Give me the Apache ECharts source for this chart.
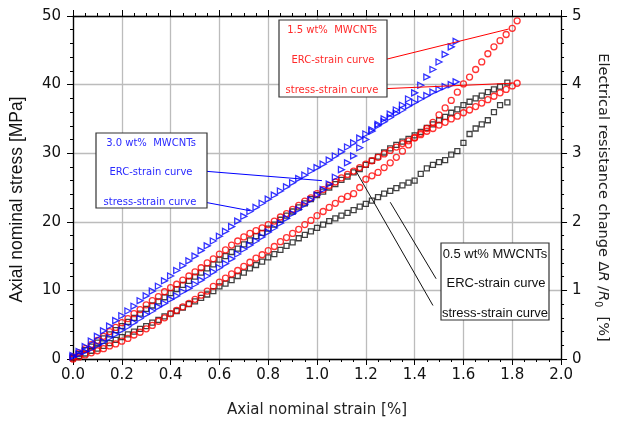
<!DOCTYPE html>
<html>
<head>
<meta charset="utf-8">
<script src="https://cdn.jsdelivr.net/npm/echarts@6/dist/echarts.min.js"></script>
<style>
  html, body { margin: 0; padding: 0; background: #fff; }
  #chart { width: 618px; height: 424px; }
</style>
</head>
<body>
<div id="chart"></div>
<script>
// strain values [%] for each specimen
const strain3 = [0, 0.025, 0.05, 0.075, 0.1, 0.125, 0.15, 0.175, 0.2, 0.225, 0.25, 0.275, 0.3, 0.325, 0.35, 0.375, 0.4, 0.425, 0.45, 0.475, 0.5, 0.525, 0.55, 0.575, 0.6, 0.625, 0.65, 0.675, 0.7, 0.725, 0.75, 0.775, 0.8, 0.825, 0.85, 0.875, 0.9, 0.925, 0.95, 0.975, 1.0, 1.025, 1.05, 1.075, 1.1, 1.125, 1.15, 1.175, 1.2, 1.225, 1.25, 1.275, 1.3, 1.325, 1.35, 1.375, 1.4, 1.425, 1.45, 1.475, 1.5, 1.525, 1.55, 1.57]
const strain05 = [0, 0.025, 0.05, 0.075, 0.1, 0.125, 0.15, 0.175, 0.2, 0.225, 0.25, 0.275, 0.3, 0.325, 0.35, 0.375, 0.4, 0.425, 0.45, 0.475, 0.5, 0.525, 0.55, 0.575, 0.6, 0.625, 0.65, 0.675, 0.7, 0.725, 0.75, 0.775, 0.8, 0.825, 0.85, 0.875, 0.9, 0.925, 0.95, 0.975, 1.0, 1.025, 1.05, 1.075, 1.1, 1.125, 1.15, 1.175, 1.2, 1.225, 1.25, 1.275, 1.3, 1.325, 1.35, 1.375, 1.4, 1.425, 1.45, 1.475, 1.5, 1.525, 1.55, 1.575, 1.6, 1.625, 1.65, 1.675, 1.7, 1.725, 1.75, 1.78]
const strain15 = [0, 0.025, 0.05, 0.075, 0.1, 0.125, 0.15, 0.175, 0.2, 0.225, 0.25, 0.275, 0.3, 0.325, 0.35, 0.375, 0.4, 0.425, 0.45, 0.475, 0.5, 0.525, 0.55, 0.575, 0.6, 0.625, 0.65, 0.675, 0.7, 0.725, 0.75, 0.775, 0.8, 0.825, 0.85, 0.875, 0.9, 0.925, 0.95, 0.975, 1.0, 1.025, 1.05, 1.075, 1.1, 1.125, 1.15, 1.175, 1.2, 1.225, 1.25, 1.275, 1.3, 1.325, 1.35, 1.375, 1.4, 1.425, 1.45, 1.475, 1.5, 1.525, 1.55, 1.575, 1.6, 1.625, 1.65, 1.675, 1.7, 1.725, 1.75, 1.775, 1.8, 1.82]

// axial nominal stress [MPa]
const stress3 = [0.5, 1.1, 1.8, 2.6, 3.3, 4.1, 4.8, 5.6, 6.3, 7.0, 7.7, 8.5, 9.2, 9.9, 10.6, 11.4, 12.1, 12.9, 13.6, 14.3, 15.0, 15.8, 16.5, 17.2, 17.9, 18.6, 19.3, 20.1, 20.8, 21.5, 22.1, 22.7, 23.3, 23.9, 24.5, 25.1, 25.7, 26.3, 26.8, 27.4, 27.9, 28.4, 29.0, 29.6, 30.2, 30.9, 31.5, 32.2, 32.8, 33.4, 34.0, 34.6, 35.2, 35.8, 36.3, 36.9, 37.4, 37.9, 38.4, 38.9, 39.3, 39.7, 40.0, 40.4]
const stress05 = [0.2, 0.7, 1.3, 1.8, 2.4, 3.0, 3.6, 4.2, 4.8, 5.4, 6.0, 6.6, 7.3, 7.8, 8.4, 9.0, 9.6, 10.2, 10.8, 11.4, 12.0, 12.6, 13.2, 13.8, 14.5, 15.0, 15.6, 16.1, 16.7, 17.3, 17.9, 18.4, 19.0, 19.6, 20.3, 20.9, 21.5, 22.1, 22.7, 23.3, 23.9, 24.4, 25.0, 25.5, 26.1, 26.6, 27.2, 27.7, 28.3, 28.9, 29.5, 30.1, 30.7, 31.2, 31.7, 32.1, 32.6, 33.1, 33.7, 34.2, 34.8, 35.3, 35.9, 36.4, 37.0, 37.5, 38.0, 38.4, 38.9, 39.3, 39.7, 40.3]
const stress15 = [0.3, 0.9, 1.5, 2.1, 2.7, 3.3, 4.0, 4.6, 5.3, 5.9, 6.6, 7.2, 7.9, 8.5, 9.1, 9.8, 10.4, 10.9, 11.5, 12.1, 12.7, 13.3, 14.0, 14.6, 15.3, 15.9, 16.6, 17.2, 17.8, 18.3, 18.7, 19.1, 19.6, 20.1, 20.7, 21.2, 21.8, 22.4, 23.0, 23.5, 24.1, 24.7, 25.3, 25.8, 26.4, 26.9, 27.4, 27.9, 28.4, 28.9, 29.4, 29.9, 30.4, 30.9, 31.4, 31.8, 32.3, 32.7, 33.2, 33.6, 34.1, 34.5, 35.0, 35.4, 35.9, 36.3, 36.8, 37.3, 37.8, 38.3, 38.8, 39.3, 39.8, 40.2]

// electrical resistance change dR/R0 [%]
const erc3 = [0.03, 0.07, 0.11, 0.15, 0.20, 0.25, 0.31, 0.36, 0.42, 0.47, 0.53, 0.59, 0.65, 0.70, 0.76, 0.81, 0.87, 0.92, 0.98, 1.03, 1.09, 1.15, 1.21, 1.27, 1.33, 1.39, 1.46, 1.53, 1.60, 1.66, 1.72, 1.78, 1.85, 1.91, 1.98, 2.05, 2.12, 2.18, 2.25, 2.32, 2.39, 2.47, 2.55, 2.65, 2.76, 2.86, 2.96, 3.08, 3.20, 3.32, 3.42, 3.50, 3.57, 3.63, 3.70, 3.79, 3.88, 3.99, 4.11, 4.22, 4.33, 4.44, 4.55, 4.63]
const erc05 = [0.01, 0.04, 0.08, 0.12, 0.15, 0.19, 0.23, 0.28, 0.32, 0.36, 0.40, 0.44, 0.48, 0.53, 0.57, 0.62, 0.66, 0.70, 0.75, 0.80, 0.84, 0.89, 0.94, 0.99, 1.06, 1.10, 1.15, 1.21, 1.26, 1.32, 1.37, 1.42, 1.48, 1.53, 1.59, 1.65, 1.70, 1.76, 1.81, 1.86, 1.91, 1.96, 2.01, 2.05, 2.09, 2.13, 2.17, 2.22, 2.26, 2.31, 2.36, 2.41, 2.45, 2.49, 2.53, 2.57, 2.60, 2.70, 2.78, 2.83, 2.87, 2.90, 2.98, 3.03, 3.15, 3.28, 3.36, 3.42, 3.48, 3.60, 3.70, 3.74]
const erc15 = [0.00, 0.03, 0.06, 0.09, 0.12, 0.15, 0.19, 0.22, 0.26, 0.30, 0.35, 0.39, 0.44, 0.49, 0.55, 0.60, 0.66, 0.71, 0.76, 0.81, 0.87, 0.93, 0.99, 1.06, 1.12, 1.18, 1.24, 1.29, 1.35, 1.41, 1.47, 1.52, 1.58, 1.64, 1.71, 1.77, 1.83, 1.89, 1.96, 2.02, 2.09, 2.15, 2.21, 2.27, 2.33, 2.37, 2.41, 2.50, 2.62, 2.67, 2.72, 2.79, 2.86, 2.94, 3.03, 3.12, 3.22, 3.29, 3.36, 3.45, 3.56, 3.66, 3.77, 3.89, 4.01, 4.11, 4.22, 4.33, 4.45, 4.55, 4.64, 4.73, 4.82, 4.93]

// annotation arrows, [from, to] in strain / stress units
const arrows3 = [[[0.532, 27.4], [1.02, 26.0]], [[0.541, 22.85], [0.727, 21.6]]]
const arrows15 = [[[1.273, 43.6], [1.785, 48.1]], [[1.273, 39.4], [1.80, 40.2]]]
const arrows05 = [[[1.488, 11.7], [1.30, 22.85]], [[1.475, 7.8], [1.158, 27.5]]]

const BLUE = '#0000ff'
const RED = '#ff0000'
const BLACK = '#111111'
const AXIS_FONT = 'DejaVu Sans'

const pairs = (xs, ys) => xs.map((x, i) => [x, ys[i]])

const arrowLine = (list, color) => ({
  silent: true,
  symbol: ['none', 'arrow'],
  symbolSize: [0, 8],
  lineStyle: { color: color, width: 1, type: 'solid' },
  label: { show: false },
  emphasis: { disabled: true },
  data: list.map(a => [{ coord: a[0] }, { coord: a[1] }])
})

const markerSeries = (name, data, yIdx, symbol, color, size, rotate, arrows) => {
  const s = {
    name: name,
    type: 'scatter',
    yAxisIndex: yIdx,
    symbol: symbol,
    symbolSize: size,
    symbolRotate: rotate,
    data: data,
    itemStyle: { color: 'transparent', borderColor: color, borderWidth: 1.3 },
    z: 3
  }
  if (arrows) s.markLine = arrowLine(arrows, color)
  return s
}

const chart = echarts.init(document.getElementById('chart'))

const tickStyle = { color: '#000', width: 1 }

const option = {
  animation: false,
  backgroundColor: '#fff',
  grid: { left: 73, right: 50, top: 16, bottom: 65 },
  xAxis: [
    {
      type: 'value', min: 0, max: 2, interval: 0.2, position: 'bottom',
      name: 'Axial nominal strain [%]', nameLocation: 'middle', nameGap: 44,
      nameTextStyle: { fontFamily: AXIS_FONT, fontSize: 15, color: '#222' },
      axisLine: { show: true, onZero: false, lineStyle: { color: '#000', width: 1.3 } },
      axisTick: { show: true, length: 6, lineStyle: tickStyle },
      minorTick: { show: true, splitNumber: 4, length: 3, lineStyle: tickStyle },
      splitLine: { show: true, lineStyle: { color: '#bcbcbc', width: 1.3 } },
      axisLabel: { formatter: v => v.toFixed(1), fontFamily: AXIS_FONT, fontSize: 15, color: '#111', margin: 9 }
    },
    {
      type: 'value', min: 0, max: 2, interval: 0.2, position: 'top',
      axisLine: { show: true, onZero: false, lineStyle: { color: '#000', width: 1.3 } },
      axisTick: { show: true, length: 6, lineStyle: tickStyle },
      minorTick: { show: true, splitNumber: 4, length: 3, lineStyle: tickStyle },
      splitLine: { show: false },
      axisLabel: { show: false }
    }
  ],
  yAxis: [
    {
      type: 'value', min: 0, max: 50, interval: 10, position: 'left',
      name: 'Axial nominal stress [MPa]', nameLocation: 'middle', nameGap: 47,
      nameTextStyle: { fontFamily: 'Liberation Sans', fontSize: 17.5, color: '#111', padding: [0, 24, 0, 0] },
      axisLine: { show: true, onZero: false, lineStyle: { color: '#000', width: 1.3 } },
      axisTick: { show: true, length: 6, lineStyle: tickStyle },
      minorTick: { show: true, splitNumber: 5, length: 3, lineStyle: tickStyle },
      splitLine: { show: true, lineStyle: { color: '#bcbcbc', width: 1.3 } },
      axisLabel: { fontFamily: AXIS_FONT, fontSize: 15, color: '#111', margin: 12 }
    },
    {
      type: 'value', min: 0, max: 5, interval: 1, position: 'right',
      name: 'Electrical resistance change Δ{i|R} /{i|R}{s|0}  [%]',
      nameLocation: 'middle', nameGap: 31, nameRotate: -90,
      nameTextStyle: {
        fontFamily: AXIS_FONT, fontSize: 14.5, color: '#222', padding: [0, 0, 0, 20],
        rich: {
          i: { fontFamily: AXIS_FONT, fontSize: 14.5, fontStyle: 'italic', color: '#222' },
          s: { fontFamily: AXIS_FONT, fontSize: 10, color: '#222', padding: [10, 0, 0, 0] }
        }
      },
      axisLine: { show: true, onZero: false, lineStyle: { color: '#000', width: 1.3 } },
      axisTick: { show: true, length: 6, lineStyle: tickStyle },
      minorTick: { show: true, splitNumber: 5, length: 3, lineStyle: tickStyle },
      splitLine: { show: false },
      axisLabel: { fontFamily: AXIS_FONT, fontSize: 15, color: '#111', margin: 11 }
    }
  ],
  series: [
    markerSeries('0.5 wt% stress', pairs(strain05, stress05), 0, 'rect', BLACK, 5, 0, arrows05),
    markerSeries('0.5 wt% ERC', pairs(strain05, erc05), 1, 'rect', BLACK, 5, 0),
    markerSeries('1.5 wt% stress', pairs(strain15, stress15), 0, 'circle', RED, 6, 0, arrows15),
    markerSeries('1.5 wt% ERC', pairs(strain15, erc15), 1, 'circle', RED, 6, 0),
    markerSeries('3.0 wt% stress', pairs(strain3, stress3), 0, 'triangle', BLUE, 6, -90, arrows3),
    markerSeries('3.0 wt% ERC', pairs(strain3, erc3), 1, 'triangle', BLUE, 6, -90)
  ],
  graphic: [
    // 3.0 wt% box
    { type: 'rect', z: 10, shape: { x: 96, y: 133, width: 111, height: 75 }, style: { fill: '#fff', stroke: '#333', lineWidth: 1.2 } },
    { type: 'text', z: 11, x: 151, y: 143, style: { text: '3.0 wt%  MWCNTs', fill: '#2a2aff', font: '10px "DejaVu Sans"', align: 'center', verticalAlign: 'middle' } },
    { type: 'text', z: 11, x: 151, y: 172, style: { text: 'ERC-strain curve', fill: '#2a2aff', font: '10px "DejaVu Sans"', align: 'center', verticalAlign: 'middle' } },
    { type: 'text', z: 11, x: 150, y: 202, style: { text: 'stress-strain curve', fill: '#2a2aff', font: '10px "DejaVu Sans"', align: 'center', verticalAlign: 'middle' } },
    // 1.5 wt% box
    { type: 'rect', z: 10, shape: { x: 279, y: 20, width: 108, height: 77 }, style: { fill: '#fff', stroke: '#333', lineWidth: 1.2 } },
    { type: 'text', z: 11, x: 332, y: 30, style: { text: '1.5 wt%  MWCNTs', fill: '#ff2a2a', font: '10px "DejaVu Sans"', align: 'center', verticalAlign: 'middle' } },
    { type: 'text', z: 11, x: 333, y: 60, style: { text: 'ERC-strain curve', fill: '#ff2a2a', font: '10px "DejaVu Sans"', align: 'center', verticalAlign: 'middle' } },
    { type: 'text', z: 11, x: 332, y: 90, style: { text: 'stress-strain curve', fill: '#ff2a2a', font: '10px "DejaVu Sans"', align: 'center', verticalAlign: 'middle' } },
    // 0.5 wt% box
    { type: 'rect', z: 10, shape: { x: 441, y: 243, width: 108, height: 77 }, style: { fill: '#fff', stroke: '#333', lineWidth: 1.2 } },
    { type: 'text', z: 11, x: 495, y: 254, style: { text: '0.5 wt% MWCNTs', fill: '#111', font: '13px "Liberation Sans"', align: 'center', verticalAlign: 'middle' } },
    { type: 'text', z: 11, x: 496, y: 283, style: { text: 'ERC-strain curve', fill: '#111', font: '13px "Liberation Sans"', align: 'center', verticalAlign: 'middle' } },
    { type: 'text', z: 11, x: 495, y: 313, style: { text: 'stress-strain curve', fill: '#111', font: '13px "Liberation Sans"', align: 'center', verticalAlign: 'middle' } }
  ]
}

chart.setOption(option)
</script>
</body>
</html>
